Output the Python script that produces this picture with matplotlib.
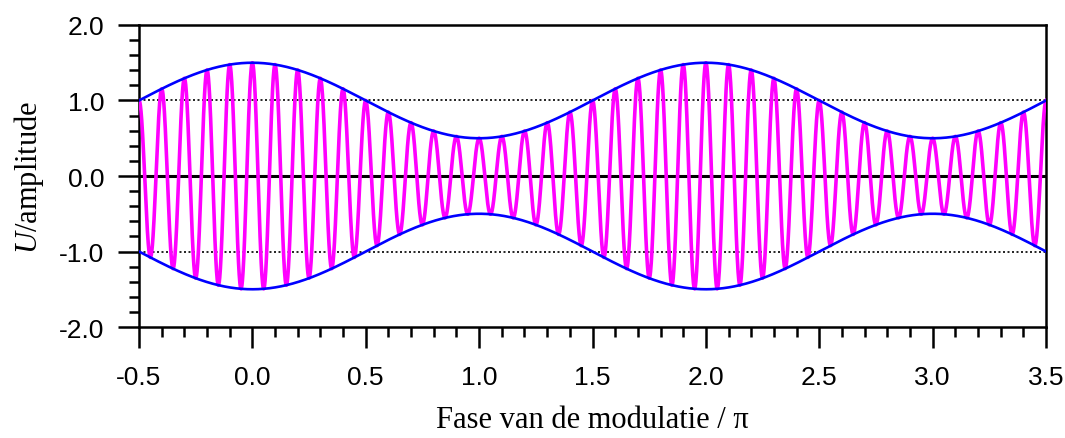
import numpy as np
import matplotlib
matplotlib.use('Agg')
import matplotlib.pyplot as plt
from matplotlib.ticker import MultipleLocator

plt.rcParams['font.family'] = ['Liberation Sans', 'DejaVu Sans']
plt.rcParams['mathtext.fontset'] = 'custom'
plt.rcParams['mathtext.it'] = 'Liberation Serif:italic'
plt.rcParams['mathtext.rm'] = 'Liberation Serif'

# signal parameters
phase_range = [-0.5, 3.5]      # modulation phase / pi
carrier_amp = 1.0
mod_depth = 0.5
carrier_ratio = 20             # carrier periods per modulation period

x_ticks = [-0.5, 0.0, 0.5, 1.0, 1.5, 2.0, 2.5, 3.0, 3.5]
y_ticks = [-2.0, -1.0, 0.0, 1.0, 2.0]
ref_lines = [-1.0, 1.0]

x = np.linspace(phase_range[0], phase_range[1], 4001)
env = carrier_amp * (1 + mod_depth * np.cos(np.pi * x))
sig = env * np.cos(carrier_ratio * np.pi * x)

fig = plt.figure(figsize=(10.65, 4.39), dpi=100)
ax = fig.add_axes([0.1305, 0.2528, 0.9822 - 0.1305, 0.9408 - 0.2528])

for r in ref_lines:
	ax.axhline(r, color='black', lw=1.2, ls=(0, (1.2, 1.5)), zorder=1)
ax.axhline(0, color='black', lw=2.2, zorder=2)

ax.plot(x, sig, color='#ff00ff', lw=2.6, zorder=3)
ax.plot(x, env, color='#0000ff', lw=1.9, zorder=4)
ax.plot(x, -env, color='#0000ff', lw=1.9, zorder=4)

ax.set_xlim(phase_range)
ax.set_ylim(-2, 2)
ax.set_xticks(x_ticks)
ax.set_yticks(y_ticks)
ax.set_xticklabels(['%.1f' % v for v in x_ticks])
ax.set_yticklabels(['%.1f' % v for v in y_ticks])
ax.xaxis.set_minor_locator(MultipleLocator(0.1))
ax.yaxis.set_minor_locator(MultipleLocator(0.2))

for s in ax.spines.values():
	s.set_linewidth(1.8)

ax.tick_params(which='major', direction='out', length=15, width=1.8,
			   top=False, right=False, labelsize=19)
ax.tick_params(axis='x', which='major', pad=12)
ax.tick_params(axis='y', which='major', pad=10)
ax.tick_params(which='minor', direction='out', length=7, width=1.8,
			   top=False, right=False)

ax.set_xlabel('Fase van de modulatie / π', family='Liberation Serif',
			  fontsize=22, labelpad=12)
ax.set_ylabel(r'$U$/amplitude', family='Liberation Serif',
			  fontsize=22, labelpad=9)

fig.savefig('out.png', dpi=100)
